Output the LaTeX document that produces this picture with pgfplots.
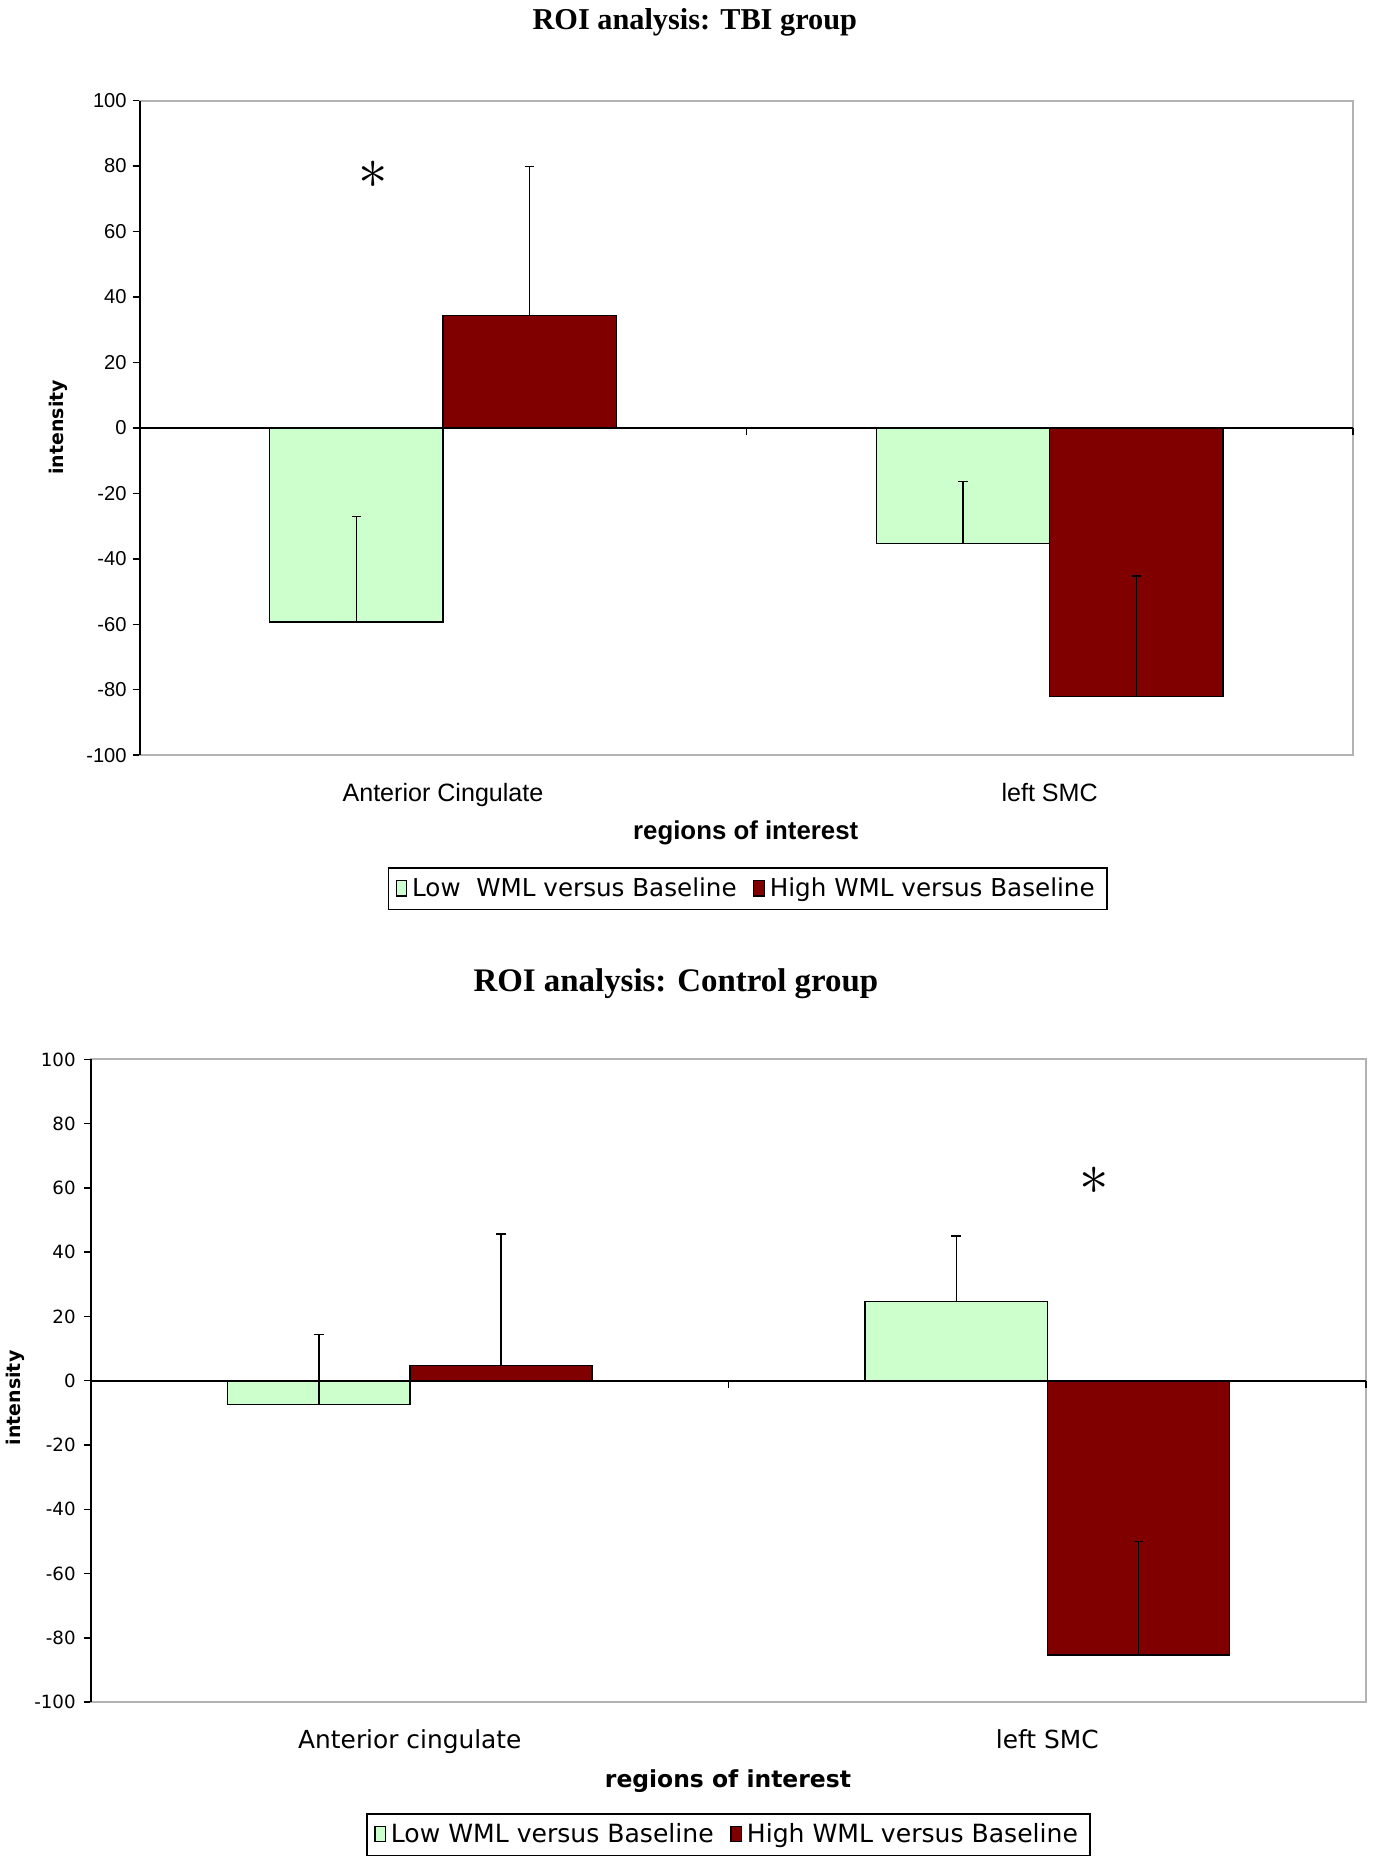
\documentclass[border=0pt]{standalone}
\usepackage{fontspec}
\setmainfont{Liberation Sans}
\newfontfamily\dejavu{DejaVu Sans}
\newfontfamily\timesf{Liberation Serif}
\usepackage{pgfplots}
\pgfplotsset{compat=1.18}
\definecolor{lowg}{HTML}{CCFFCC}
\definecolor{highr}{HTML}{800000}
\pgfplotsset{
  roi/.style={
    scale only axis,
    xmin=-0.5, xmax=1.5, ymin=-100, ymax=100,
    ytick={-100,-80,...,100},
    xtick={0,1},
    /pgf/number format/assume math mode=true,
    xticklabel style={anchor=base},
    xticklabel shift=16.5pt,
    x tick style={draw=none},
    xtick align=inside,
    ytick align=outside,
    ytick pos=left,
    y tick style={black, line width=0.6pt},
    major tick length=3pt,
    axis line style={gray!60, line width=0.8pt},
    ybar=0pt,
    bar width=0.2857,
    clip=false,
    legend columns=2,
    legend style={draw=black, line width=0.8pt,
      inner xsep=3pt, inner ysep=2pt, anchor=center,
      /tikz/every even column/.append style={column sep=5pt}},
    legend image code/.code={\draw[#1, line width=0.5pt] (0pt,-3pt) rectangle (4.5pt,3.5pt);},
    every axis plot/.append style={draw=black, line width=0.6pt},
    error bars/y dir=plus,
    error bars/y explicit,
    error bars/error mark=|,
    error bars/error bar style={black, line width=0.6pt},
    error bars/error mark options={black, mark size=2pt, line width=0.6pt},
  }
}
\begin{document}
\begin{tikzpicture}
\useasboundingbox (0,0) rectangle (580pt,784pt);
% ---------- TBI group ----------
\begin{axis}[roi, at={(59pt,465pt)}, anchor=south west,
  width=512.5pt, height=276.5pt,
  yticklabel style={font=\fontsize{8.5}{10}\selectfont, xshift=1pt},
  xticklabel style={font=\fontsize{10.6}{12}\selectfont},
  xticklabels={Anterior Cingulate, left SMC},
  legend style={at={(rel axis cs:0.501,-0.2043)}, font=\dejavu\fontsize{10.4}{12}\selectfont}]
\addplot[fill=lowg] coordinates {(0,-59.3) +- (0,32.3) (1,-35.4) +- (0,19.0)};
\addplot[fill=highr] coordinates {(0,34.4) +- (0,45.5) (1,-82.1) +- (0,36.9)};
\legend{Low\ \ WML versus Baseline, High WML versus Baseline}
\draw[black, line width=0.8pt] (rel axis cs:0,0) -- (rel axis cs:0,1);
\draw[black, line width=0.8pt] (axis cs:-0.5,0) -- (axis cs:1.5,0);
\draw[black, line width=0.6pt] (axis cs:0.5,0) -- ([yshift=-3pt]axis cs:0.5,0);
\draw[black, line width=0.6pt] (axis cs:1.5,0) -- ([yshift=-3pt]axis cs:1.5,0);
\node[font=\fontsize{26}{26}\selectfont] at (axis cs:-0.1156,77.4) {$\ast$};
\end{axis}
\node[font=\timesf\bfseries\fontsize{12.8}{14}\selectfont] at (293.5pt,774.5pt) {ROI analysis: TBI group};
\node[font=\bfseries\fontsize{10.9}{12}\selectfont] at (315pt,432pt) {regions of interest};
\node[font=\dejavu\bfseries\fontsize{8}{10}\selectfont, rotate=90] at (24.5pt,603.5pt) {intensity};
% ---------- Control group ----------
\begin{axis}[roi, at={(38.5pt,65pt)}, anchor=south west,
  width=538.5pt, height=271.5pt,
  yticklabel style={font=\dejavu\fontsize{7.7}{9}\selectfont},
  xticklabel style={font=\dejavu\fontsize{10.5}{12}\selectfont},
  xticklabels={Anterior cingulate, left SMC},
  legend style={at={(rel axis cs:0.500,-0.2063)}, font=\dejavu\fontsize{10.6}{12}\selectfont}]
\addplot[fill=lowg] coordinates {(0,-7.4) +- (0,21.8) (1,24.7) +- (0,20.3)};
\addplot[fill=highr] coordinates {(0,4.8) +- (0,40.9) (1,-85.4) +- (0,35.4)};
\legend{Low WML versus Baseline, High WML versus Baseline}
\draw[black, line width=0.8pt] (rel axis cs:0,0) -- (rel axis cs:0,1);
\draw[black, line width=0.8pt] (axis cs:-0.5,0) -- (axis cs:1.5,0);
\draw[black, line width=0.6pt] (axis cs:0.5,0) -- ([yshift=-3pt]axis cs:0.5,0);
\draw[black, line width=0.6pt] (axis cs:1.5,0) -- ([yshift=-3pt]axis cs:1.5,0);
\node[font=\fontsize{26}{26}\selectfont] at (axis cs:1.0729,62.2) {$\ast$};
\end{axis}
\node[font=\timesf\bfseries\fontsize{13.9}{15}\selectfont] at (285.5pt,368.5pt) {ROI analysis: Control group};
\node[font=\dejavu\bfseries\fontsize{9.9}{12}\selectfont] at (307.5pt,31.5pt) {regions of interest};
\node[font=\dejavu\bfseries\fontsize{8}{10}\selectfont, rotate=90] at (6.5pt,193.5pt) {intensity};
\end{tikzpicture}
\end{document}
